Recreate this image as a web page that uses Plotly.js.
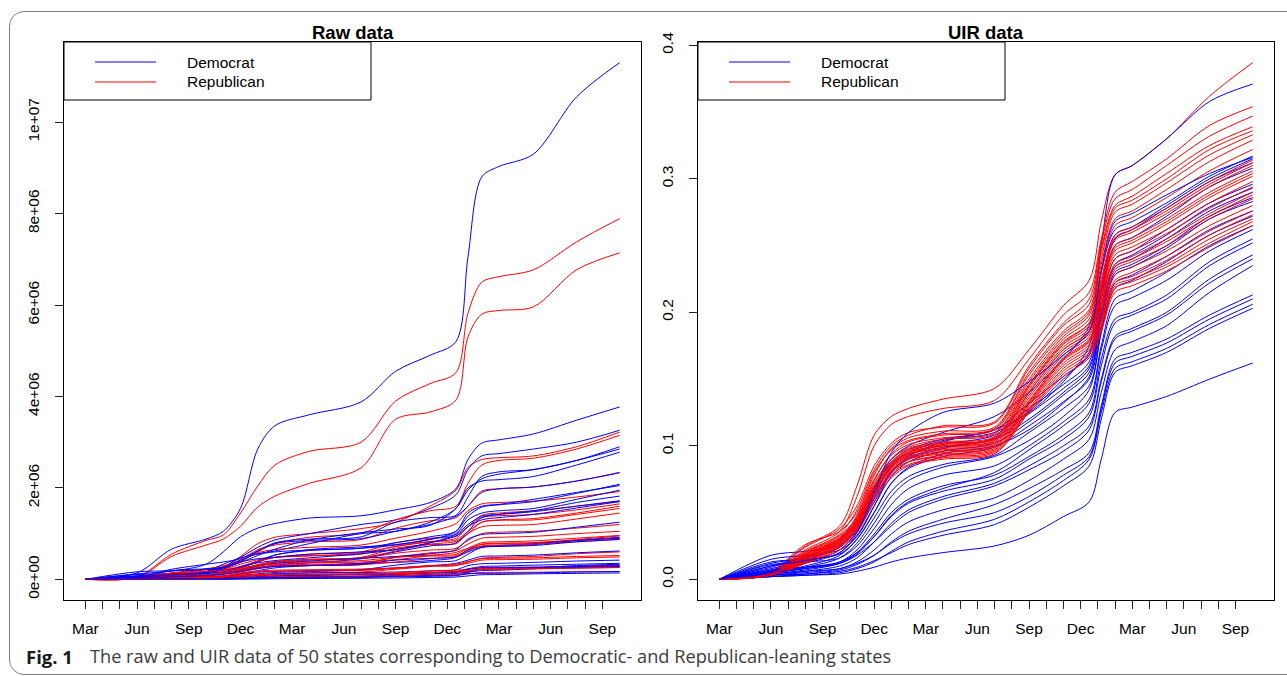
<!DOCTYPE html>
<html><head><meta charset="utf-8">
<script src="https://cdn.plot.ly/plotly-3.0.1.min.js"></script>
<style>
html,body{margin:0;padding:0;background:#fff;overflow:hidden;}
#chart{position:absolute;left:0;top:0;width:1287px;height:676px;}
#frame{position:absolute;left:9px;top:11px;width:1330px;height:662px;border:1.4px solid #808080;border-radius:15px;pointer-events:none;}
</style></head><body>
<div id="chart"></div><div id="frame"></div>
<script>
// time in months since 1 Mar 2020
const T = [0, 3, 5, 7, 8, 9, 10, 11, 13, 16, 18, 20, 21.5, 22.2, 23, 24, 26, 28.5, 31];
const monthTickVals = [0,1,2,3,4,5,6,7,8,9,10,11,12,13,14,15,16,17,18,19,20,21,22,23,24,25,26,27,28,29,30];
const monthTickText = ['Mar','','','Jun','','','Sep','','','Dec','','','Mar','','','Jun','','','Sep','','','Dec','','','Mar','','','Jun','','','Sep'];
const rawTickVals = [0, 2, 4, 6, 8, 10];
const rawTickText = ['0e+00','2e+06','4e+06','6e+06','8e+06','1e+07'];
const uirTickVals = [0, 0.1, 0.2, 0.3, 0.4];
const uirTickText = ['0.0','0.1','0.2','0.3','0.4'];
const legendLabels = ['Democrat', 'Republican'];
const panelTitles = ['Raw data', 'UIR data'];

// Raw cumulative counts (millions), Democratic-leaning states
const rawDemocrat = [
 [0,0.14,0.66,0.88,1.05,1.55,2.85,3.36,3.6,3.88,4.55,4.9,5.2,7.05,8.8,9.03,9.3,10.55,11.3],
 [0,0.12,0.18,0.33,0.6,0.93,1.12,1.22,1.34,1.39,1.52,1.68,1.98,2.62,2.98,3.05,3.18,3.48,3.77],
 [0,0.08,0.12,0.17,0.27,0.48,0.7,0.86,1.0,1.2,1.3,1.55,1.85,2.4,2.7,2.75,2.85,3.0,3.26],
 [0,0.05,0.22,0.33,0.38,0.45,0.62,0.8,0.88,0.93,1.25,1.35,1.4,1.8,2.25,2.35,2.4,2.6,2.9],
 [0,0.065,0.09,0.15,0.25,0.42,0.56,0.62,0.78,1.0,1.05,1.25,1.55,1.95,2.2,2.3,2.4,2.6,2.85],
 [0,0.165,0.185,0.21,0.26,0.37,0.52,0.66,0.86,1.02,1.1,1.18,1.55,2.0,2.15,2.18,2.25,2.5,2.78],
 [0,0.03,0.19,0.23,0.26,0.38,0.62,0.78,0.85,0.89,1.05,1.2,1.38,1.6,1.9,1.98,2.02,2.15,2.33],
 [0,0.055,0.1,0.16,0.2,0.26,0.38,0.53,0.63,0.68,0.8,0.93,1.05,1.38,1.58,1.63,1.7,1.88,2.08],
 [0,0.105,0.12,0.14,0.17,0.25,0.4,0.53,0.65,0.71,0.76,0.87,1.05,1.45,1.6,1.64,1.75,1.9,2.05],
 [0,0.023,0.065,0.17,0.33,0.47,0.55,0.6,0.64,0.68,0.75,0.88,1.0,1.3,1.45,1.5,1.55,1.75,1.95],
 [0,0.026,0.07,0.095,0.12,0.18,0.25,0.31,0.36,0.45,0.6,0.73,0.8,1.05,1.35,1.42,1.5,1.68,1.82],
 [0,0.03,0.065,0.12,0.23,0.38,0.45,0.48,0.55,0.6,0.65,0.8,0.98,1.2,1.38,1.42,1.48,1.6,1.72],
 [0,0.03,0.05,0.085,0.15,0.28,0.36,0.41,0.47,0.56,0.65,0.8,0.95,1.15,1.3,1.35,1.42,1.56,1.7],
 [0,0.06,0.1,0.13,0.15,0.2,0.28,0.35,0.4,0.46,0.5,0.56,0.65,0.88,0.98,1.0,1.03,1.14,1.25],
 [0,0.005,0.02,0.04,0.05,0.09,0.12,0.15,0.17,0.21,0.31,0.38,0.41,0.55,0.7,0.72,0.76,0.85,0.92],
 [0,0.045,0.05,0.062,0.08,0.12,0.19,0.25,0.3,0.35,0.37,0.41,0.48,0.65,0.72,0.74,0.78,0.85,0.9],
 [0,0.012,0.055,0.085,0.11,0.17,0.24,0.28,0.3,0.33,0.42,0.46,0.49,0.6,0.7,0.72,0.74,0.82,0.87],
 [0,0.01,0.022,0.035,0.06,0.12,0.16,0.18,0.19,0.21,0.25,0.3,0.35,0.42,0.5,0.51,0.53,0.58,0.62],
 [0,0.016,0.02,0.027,0.035,0.06,0.09,0.12,0.14,0.15,0.16,0.18,0.21,0.3,0.34,0.35,0.37,0.4,0.42],
 [0,0.005,0.007,0.009,0.012,0.022,0.045,0.065,0.085,0.1,0.11,0.14,0.17,0.23,0.28,0.29,0.31,0.33,0.35],
 [0,0.0006,0.003,0.013,0.015,0.019,0.022,0.026,0.03,0.038,0.07,0.085,0.092,0.15,0.22,0.23,0.25,0.3,0.33],
 [0,0.01,0.015,0.02,0.025,0.04,0.06,0.075,0.09,0.11,0.12,0.14,0.16,0.22,0.25,0.255,0.26,0.28,0.3],
 [0,0.002,0.004,0.005,0.007,0.013,0.027,0.04,0.05,0.07,0.08,0.11,0.13,0.16,0.19,0.2,0.23,0.26,0.28],
 [0,0.001,0.0015,0.002,0.0025,0.005,0.008,0.013,0.02,0.024,0.03,0.04,0.05,0.075,0.1,0.105,0.12,0.13,0.14],
 [0,0.01,0.013,0.016,0.018,0.022,0.03,0.037,0.043,0.05,0.055,0.065,0.08,0.12,0.13,0.133,0.14,0.16,0.17]
];
// Raw cumulative counts (millions), Republican-leaning states
const rawRepublican = [
 [0,0.05,0.55,0.85,0.97,1.45,2.04,2.5,2.8,3.0,3.9,4.28,4.52,5.82,6.5,6.62,6.77,7.38,7.89],
 [0,0.04,0.5,0.75,0.88,1.16,1.58,1.82,2.1,2.44,3.5,3.66,3.92,5.3,5.8,5.88,5.96,6.77,7.14],
 [0,0.04,0.1,0.17,0.27,0.5,0.78,0.92,1.0,1.11,1.25,1.6,1.95,2.45,2.62,2.66,2.7,2.9,3.22],
 [0,0.04,0.14,0.23,0.3,0.4,0.6,0.78,0.92,1.01,1.3,1.5,1.6,2.1,2.5,2.6,2.65,2.85,3.15],
 [0,0.03,0.12,0.21,0.28,0.43,0.65,0.75,0.82,0.87,1.12,1.28,1.35,1.6,1.93,1.98,2.02,2.15,2.34],
 [0,0.04,0.08,0.14,0.22,0.4,0.58,0.65,0.7,0.75,0.9,1.05,1.22,1.5,1.65,1.68,1.71,1.8,1.92],
 [0,0.018,0.1,0.16,0.2,0.26,0.38,0.48,0.55,0.6,0.8,0.9,0.94,1.15,1.4,1.45,1.5,1.6,1.7],
 [0,0.016,0.06,0.15,0.22,0.33,0.43,0.48,0.51,0.58,0.72,0.82,0.9,1.15,1.35,1.39,1.42,1.52,1.65],
 [0,0.013,0.04,0.09,0.13,0.22,0.32,0.38,0.43,0.47,0.62,0.77,0.83,1.0,1.25,1.3,1.33,1.45,1.6],
 [0,0.025,0.11,0.17,0.21,0.28,0.4,0.48,0.52,0.55,0.72,0.83,0.86,1.05,1.25,1.29,1.3,1.42,1.55],
 [0,0.05,0.14,0.17,0.19,0.23,0.32,0.39,0.44,0.48,0.68,0.76,0.78,1.0,1.15,1.18,1.2,1.32,1.45],
 [0,0.008,0.04,0.1,0.13,0.2,0.3,0.37,0.42,0.46,0.57,0.64,0.68,0.85,1.0,1.03,1.05,1.12,1.2],
 [0,0.015,0.045,0.08,0.13,0.21,0.3,0.35,0.38,0.41,0.49,0.58,0.63,0.77,0.9,0.92,0.94,1.0,1.05],
 [0,0.012,0.05,0.09,0.12,0.17,0.25,0.3,0.33,0.35,0.48,0.53,0.55,0.68,0.8,0.82,0.84,0.9,0.96],
 [0,0.02,0.07,0.1,0.12,0.16,0.23,0.28,0.3,0.32,0.48,0.51,0.52,0.64,0.77,0.79,0.8,0.87,0.95],
 [0,0.025,0.05,0.1,0.16,0.25,0.3,0.33,0.36,0.38,0.43,0.52,0.59,0.68,0.76,0.78,0.8,0.85,0.9],
 [0,0.011,0.032,0.07,0.12,0.2,0.26,0.29,0.31,0.32,0.38,0.45,0.5,0.62,0.73,0.75,0.77,0.82,0.88],
 [0,0.002,0.008,0.02,0.03,0.06,0.1,0.12,0.14,0.16,0.22,0.28,0.3,0.38,0.46,0.48,0.5,0.56,0.6],
 [0,0.016,0.028,0.05,0.08,0.14,0.18,0.2,0.21,0.225,0.25,0.29,0.33,0.39,0.45,0.46,0.47,0.5,0.52],
 [0,0.003,0.025,0.045,0.065,0.11,0.15,0.17,0.185,0.195,0.24,0.3,0.31,0.35,0.42,0.43,0.44,0.47,0.49],
 [0,0.001,0.005,0.02,0.035,0.07,0.08,0.095,0.105,0.115,0.14,0.19,0.2,0.22,0.26,0.265,0.27,0.29,0.31],
 [0,0.0005,0.004,0.01,0.017,0.035,0.048,0.055,0.063,0.07,0.1,0.14,0.15,0.18,0.23,0.235,0.24,0.27,0.29],
 [0,0.003,0.007,0.03,0.05,0.085,0.095,0.1,0.103,0.11,0.12,0.15,0.17,0.19,0.22,0.225,0.23,0.245,0.26],
 [0,0.005,0.01,0.03,0.055,0.085,0.1,0.11,0.115,0.124,0.13,0.155,0.17,0.19,0.225,0.23,0.235,0.245,0.26],
 [0,0.001,0.003,0.008,0.015,0.035,0.045,0.05,0.055,0.06,0.075,0.1,0.11,0.125,0.15,0.153,0.155,0.165,0.17]
];
// UIR, Democratic-leaning states
const uirDemocrat = [
 [0,.018,.021,.026,.040,.066,.090,.100,.110,.122,.140,.165,.190,.250,.303,.310,.330,.358,.371],
 [0,.015,.018,.022,.032,.055,.080,.092,.103,.112,.125,.148,.175,.230,.262,.268,.282,.302,.317],
 [0,.012,.016,.024,.038,.062,.085,.095,.104,.110,.126,.150,.170,.220,.258,.264,.280,.300,.315],
 [0,.010,.017,.028,.042,.068,.088,.097,.105,.112,.132,.152,.168,.215,.255,.262,.278,.298,.312],
 [0,.008,.014,.025,.040,.064,.084,.093,.101,.108,.128,.146,.163,.210,.250,.256,.272,.294,.308],
 [0,.007,.013,.022,.036,.058,.080,.090,.098,.106,.124,.143,.160,.205,.240,.246,.262,.282,.296],
 [0,.009,.016,.024,.037,.060,.081,.091,.099,.105,.120,.140,.158,.200,.236,.243,.258,.279,.293],
 [0,.006,.012,.020,.033,.055,.077,.088,.096,.102,.118,.138,.155,.198,.234,.240,.255,.276,.290],
 [0,.013,.015,.019,.030,.050,.072,.084,.094,.100,.112,.132,.152,.195,.230,.236,.250,.272,.286],
 [0,.005,.010,.018,.030,.050,.072,.083,.092,.099,.115,.133,.150,.190,.228,.234,.248,.270,.283],
 [0,.004,.009,.016,.027,.046,.066,.077,.086,.093,.110,.128,.145,.185,.222,.228,.242,.262,.276],
 [0,.011,.013,.016,.025,.042,.062,.074,.084,.092,.104,.122,.142,.185,.218,.224,.238,.258,.272],
 [0,.005,.008,.013,.022,.038,.056,.068,.078,.085,.100,.118,.135,.175,.210,.216,.230,.250,.265],
 [0,.004,.007,.012,.020,.034,.050,.060,.070,.078,.092,.108,.125,.165,.195,.200,.213,.238,.255],
 [0,.006,.009,.013,.020,.032,.047,.057,.066,.075,.090,.105,.122,.160,.192,.198,.210,.235,.252],
 [0,.003,.006,.010,.016,.028,.042,.052,.062,.072,.085,.100,.115,.150,.182,.188,.200,.225,.243],
 [0,.007,.009,.012,.018,.028,.040,.050,.060,.070,.082,.096,.112,.148,.180,.186,.198,.222,.240],
 [0,.003,.005,.008,.013,.022,.034,.043,.052,.061,.074,.090,.105,.140,.172,.178,.190,.215,.235],
 [0,.002,.004,.007,.011,.018,.028,.036,.045,.056,.068,.082,.095,.130,.165,.170,.180,.198,.213],
 [0,.004,.006,.008,.012,.018,.027,.034,.042,.050,.062,.078,.092,.128,.162,.167,.177,.195,.210],
 [0,.002,.003,.005,.008,.013,.021,.028,.036,.045,.058,.074,.090,.125,.158,.163,.173,.191,.206],
 [0,.003,.004,.006,.009,.014,.020,.026,.033,.041,.054,.070,.085,.120,.155,.160,.170,.188,.203],
 [0,.002,.003,.004,.006,.009,.013,.016,.020,.025,.033,.047,.058,.090,.125,.129,.137,.150,.162],
 [0,.005,.008,.012,.019,.032,.048,.058,.068,.080,.097,.115,.132,.172,.205,.211,.224,.246,.262],
 [0,.010,.014,.020,.035,.065,.095,.110,.125,.132,.148,.168,.186,.232,.268,.274,.288,.304,.316]
];
// UIR, Republican-leaning states
const uirRepublican = [
 [0,.006,.025,.040,.070,.108,.122,.128,.135,.143,.172,.205,.224,.268,.303,.310,.330,.362,.387],
 [0,.005,.022,.036,.062,.100,.116,.122,.128,.134,.165,.198,.215,.255,.290,.298,.315,.340,.354],
 [0,.004,.020,.034,.052,.082,.100,.108,.115,.118,.160,.192,.210,.252,.285,.292,.310,.332,.347],
 [0,.005,.024,.038,.055,.085,.102,.110,.114,.117,.158,.190,.206,.248,.280,.287,.304,.325,.339],
 [0,.004,.018,.030,.048,.078,.098,.106,.111,.114,.155,.186,.202,.245,.278,.284,.300,.322,.336],
 [0,.006,.026,.036,.050,.080,.097,.104,.109,.113,.153,.184,.200,.240,.275,.281,.297,.318,.333],
 [0,.003,.016,.028,.045,.074,.094,.103,.108,.112,.150,.182,.198,.236,.270,.276,.292,.313,.329],
 [0,.004,.019,.031,.047,.075,.093,.101,.106,.110,.148,.180,.195,.230,.265,.271,.286,.306,.322],
 [0,.003,.015,.027,.042,.070,.090,.099,.105,.109,.146,.178,.192,.225,.258,.264,.278,.298,.314],
 [0,.005,.021,.033,.046,.072,.090,.098,.103,.107,.144,.176,.190,.220,.254,.260,.274,.294,.310],
 [0,.004,.017,.029,.043,.068,.088,.097,.102,.106,.142,.174,.188,.218,.250,.256,.270,.290,.306],
 [0,.003,.014,.026,.040,.066,.086,.095,.101,.105,.140,.172,.186,.215,.246,.252,.266,.286,.302],
 [0,.004,.018,.030,.044,.069,.087,.095,.100,.104,.138,.170,.184,.212,.243,.249,.262,.282,.298],
 [0,.003,.013,.025,.039,.064,.084,.093,.099,.103,.136,.168,.182,.210,.240,.246,.259,.278,.294],
 [0,.005,.020,.032,.045,.070,.086,.094,.098,.102,.134,.166,.180,.206,.236,.242,.255,.274,.290],
 [0,.004,.016,.028,.041,.066,.083,.091,.096,.100,.132,.164,.178,.202,.232,.238,.250,.270,.285],
 [0,.003,.012,.024,.037,.062,.081,.090,.095,.099,.131,.162,.176,.200,.228,.234,.246,.265,.280],
 [0,.004,.017,.029,.042,.066,.082,.090,.094,.098,.130,.160,.174,.196,.224,.230,.242,.261,.276],
 [0,.003,.013,.025,.038,.061,.079,.088,.093,.097,.128,.158,.172,.193,.222,.227,.239,.258,.273],
 [0,.004,.018,.030,.043,.066,.081,.088,.092,.096,.127,.156,.170,.190,.220,.225,.236,.255,.270],
 [0,.003,.014,.026,.039,.062,.078,.086,.091,.095,.126,.154,.168,.188,.218,.223,.234,.252,.268],
 [0,.003,.012,.022,.035,.058,.076,.085,.090,.094,.125,.152,.166,.186,.215,.220,.231,.249,.265],
 [0,.004,.016,.029,.043,.068,.087,.096,.102,.106,.145,.177,.192,.222,.256,.262,.276,.296,.312],
 [0,.003,.015,.027,.041,.067,.085,.094,.100,.104,.140,.172,.186,.216,.248,.254,.268,.288,.304],
 [0,.004,.019,.031,.044,.068,.084,.092,.097,.101,.133,.165,.179,.205,.234,.240,.253,.272,.288]
];

const W = 1287, H = 676;
const BLUE = '#0000ff', RED = '#ff0000';
const px = v => v / W, py = v => 1 - v / H;

function lineTrace(y, color, xa, ya) {
  return {type:'scatter', mode:'lines', x:T, y:y, xaxis:xa, yaxis:ya,
    line:{color:color, width:1, shape:'spline', smoothing:0.9},
    hoverinfo:'skip', showlegend:false};
}
const traces = [];
function addPanel(dem, rep, xa, ya) {
  const n = Math.max(dem.length, rep.length);
  for (let i = 0; i < n; i++) {
    if (i < rep.length) traces.push(lineTrace(rep[i], RED, xa, ya));
    if (i < dem.length) traces.push(lineTrace(dem[i], BLUE, xa, ya));
  }
}
addPanel(rawDemocrat, rawRepublican, 'x', 'y');
addPanel(uirDemocrat, uirRepublican, 'x2', 'y2');

const tickFont = {family:'Liberation Sans, Arial, sans-serif', size:15.5, color:'#000'};
function xAxis(dom, anchor) {
  return {domain:dom, anchor:anchor, range:[-1.24, 32.24], tickmode:'array',
    tickvals:monthTickVals, ticktext:monthTickText, ticks:'outside', ticklen:8,
    tickwidth:1, tickcolor:'#222', showline:true, linecolor:'#000', linewidth:1,
    mirror:true, showgrid:false, zeroline:false, tickfont:tickFont, ticklabelstandoff:6};
}
function yAxis(dom, anchor, range, vals, text) {
  return {domain:dom, anchor:anchor, range:range, tickmode:'array', tickvals:vals,
    ticktext:text, tickangle:-90, ticks:'outside', ticklen:8, tickwidth:1, tickcolor:'#222',
    showline:true, linecolor:'#000', linewidth:1, mirror:true, showgrid:false,
    zeroline:false, tickfont:tickFont, ticklabelstandoff:10};
}
const yDom = [py(600), py(42)];
const panels = [{x0:64, x1:641}, {x0:698, x1:1274}];

const shapes = [], annotations = [];
panels.forEach((p, i) => {
  // legend box
  shapes.push({type:'rect', xref:'paper', yref:'paper', x0:px(p.x0), x1:px(p.x0+307),
    y0:py(100), y1:py(42), line:{color:'#000', width:1}, fillcolor:'#fff', layer:'above'});
  shapes.push({type:'line', xref:'paper', yref:'paper', x0:px(p.x0+31), x1:px(p.x0+92),
    y0:py(62), y1:py(62), line:{color:BLUE, width:1}, layer:'above'});
  shapes.push({type:'line', xref:'paper', yref:'paper', x0:px(p.x0+31), x1:px(p.x0+92),
    y0:py(82), y1:py(82), line:{color:RED, width:1}, layer:'above'});
  annotations.push({xref:'paper', yref:'paper', x:px(p.x0+121), y:py(62), xanchor:'left',
    yanchor:'middle', showarrow:false, text:legendLabels[0], font:tickFont});
  annotations.push({xref:'paper', yref:'paper', x:px(p.x0+121), y:py(82), xanchor:'left',
    yanchor:'middle', showarrow:false, text:legendLabels[1], font:tickFont});
  annotations.push({xref:'paper', yref:'paper', x:px((p.x0+p.x1)/2), y:py(32), xanchor:'center',
    yanchor:'middle', showarrow:false, text:'<b>'+panelTitles[i]+'</b>',
    font:{family:'Liberation Sans, Arial, sans-serif', size:18.5, color:'#000'}});
});
annotations.push({xref:'paper', yref:'paper', x:px(24), y:py(656), xanchor:'left', yanchor:'middle',
  showarrow:false, text:'<b>Fig. 1</b>', font:{family:'Open Sans, sans-serif', size:18.5, color:'#1a1a1a'}});
annotations.push({xref:'paper', yref:'paper', x:px(88), y:py(656), xanchor:'left', yanchor:'middle',
  showarrow:false, text:'The raw and UIR data of 50 states corresponding to Democratic- and Republican-leaning states',
  font:{family:'Open Sans, sans-serif', size:18.2, color:'#3c3c3c'}});

const layout = {
  width:W, height:H, margin:{l:0, r:0, t:0, b:0}, paper_bgcolor:'#fff', plot_bgcolor:'#fff',
  showlegend:false, hovermode:false,
  xaxis:xAxis([px(64), px(641)], 'y'),
  yaxis:yAxis(yDom, 'x', [-0.452, 11.752], rawTickVals, rawTickText),
  xaxis2:xAxis([px(698), px(1274)], 'y2'),
  yaxis2:yAxis(yDom, 'x2', [-0.0155, 0.4025], uirTickVals, uirTickText),
  shapes:shapes, annotations:annotations
};
Plotly.newPlot('chart', traces, layout, {staticPlot:true, displayModeBar:false});
</script></body></html>
